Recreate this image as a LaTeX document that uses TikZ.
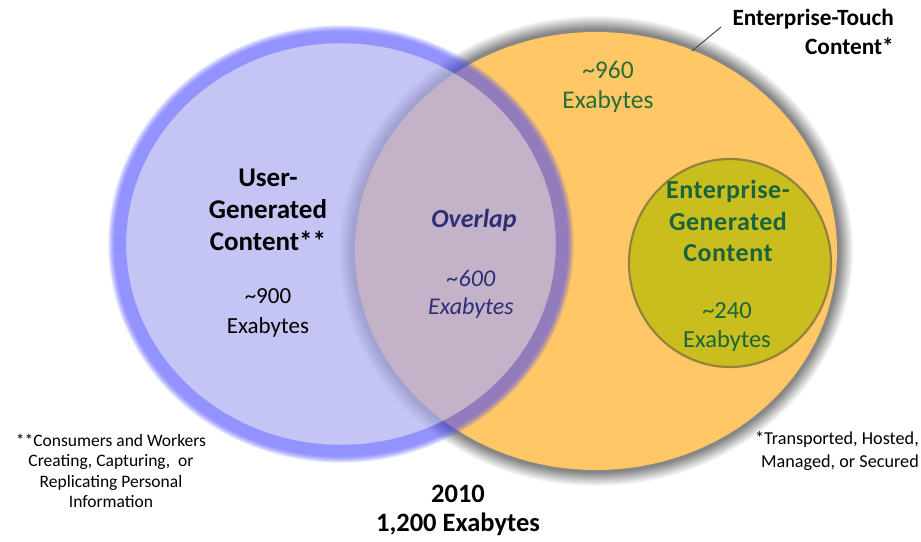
\documentclass[tikz,border=0pt]{standalone}
\usepackage{fontspec}
\setmainfont{Carlito}
\definecolor{orangefill}{RGB}{255,199,102}
\definecolor{bluefill}{RGB}{172,172,241}
\definecolor{blueband}{RGB}{80,80,255}
\definecolor{greenfill}{RGB}{201,190,30}
\definecolor{greenedge}{RGB}{150,130,60}
\definecolor{ovblue}{RGB}{45,45,120}
\definecolor{dgreen}{RGB}{40,110,55}
\definecolor{egreen}{RGB}{25,100,60}
\begin{document}
\begin{tikzpicture}[x=1pt,y=-1pt,
  lbl/.style={align=center,inner sep=0pt},
  val/.style={align=center,inner sep=0pt},
  note/.style={align=center,inner sep=0pt,font=\fontsize{17.5}{20.5}\selectfont}]
\useasboundingbox (0,0) rectangle (921,541);
\fill[white] (0,0) rectangle (921,541);
% gray soft ring of orange circle (outside in, opaque)
\foreach \i in {17,16,...,0}{
  \pgfmathsetmacro\p{\i<4 ? 47 : 47*(1-(\i-3)/14)}
  \fill[black!\p] (596,251) ellipse [x radius={241pt+\i pt}, y radius={219pt+\i pt}];
}
\fill[orangefill] (596,251) ellipse [x radius=241pt, y radius=219pt];
% blue circle
\fill[bluefill,fill opacity=0.71] (341,244) ellipse [x radius=215pt, y radius=201pt];
\foreach \i in {0.5,1,...,7}{
  \fill[blueband,fill opacity=0.063,even odd rule] (341,244) ellipse [x radius={226pt+\i pt}, y radius={212pt+\i pt}] ellipse [x radius=215pt, y radius=201pt];
}
% green ellipse
\fill[greenfill,draw=greenedge,line width=2.2pt] (730,263) ellipse [x radius=101pt, y radius=104pt];
% texts
\node[lbl,font=\fontsize{27}{32}\selectfont\bfseries] (ugc) at (268,210) {User-\\Generated\\Content**};
\node[val,font=\fontsize{23}{30}\selectfont] (ugv) at (268,313) {\textasciitilde900\\Exabytes};
\node[lbl,font=\fontsize{26}{30}\selectfont\bfseries\itshape,text=ovblue] (ov) at (474,220) {Overlap};
\node[val,font=\fontsize{24}{28}\selectfont\itshape,text=ovblue] (ovv) at (471,294) {\textasciitilde600\\Exabytes};
\node[val,font=\fontsize{25.5}{30}\selectfont,text=dgreen] (etv) at (608,87) {\textasciitilde960\\Exabytes};
\node[lbl,font=\fontsize{26}{31.5}\selectfont\bfseries\addfontfeature{LetterSpace=2},text=egreen] (egc) at (728,221) {Enterprise-\\Generated\\Content};
\node[val,font=\fontsize{24.5}{29}\selectfont,text=egreen] (egv) at (727,327) {\textasciitilde240\\Exabytes};
\node[align=right,anchor=east,inner sep=0pt,font=\fontsize{23.3}{29}\selectfont\bfseries] (etc) at (894,32) {Enterprise-Touch\\Content*};
\coordinate (lead) at (692,51);
\draw[black!70,line width=1pt] (lead) -- (721,27);
\node[note] (fnl) at (111,471) {**Consumers and Workers\\Creating, Capturing,\ \ or\\Replicating Personal\\Information};
\node[note,align=right,anchor=east,font=\fontsize{18.2}{23}\selectfont] (fnr) at (919,451) {*Transported, Hosted,\\Managed, or Secured};
\node[lbl,font=\fontsize{26.5}{29}\selectfont\bfseries] (yr) at (458,510) {2010\\1,200 Exabytes};
\end{tikzpicture}
\end{document}
